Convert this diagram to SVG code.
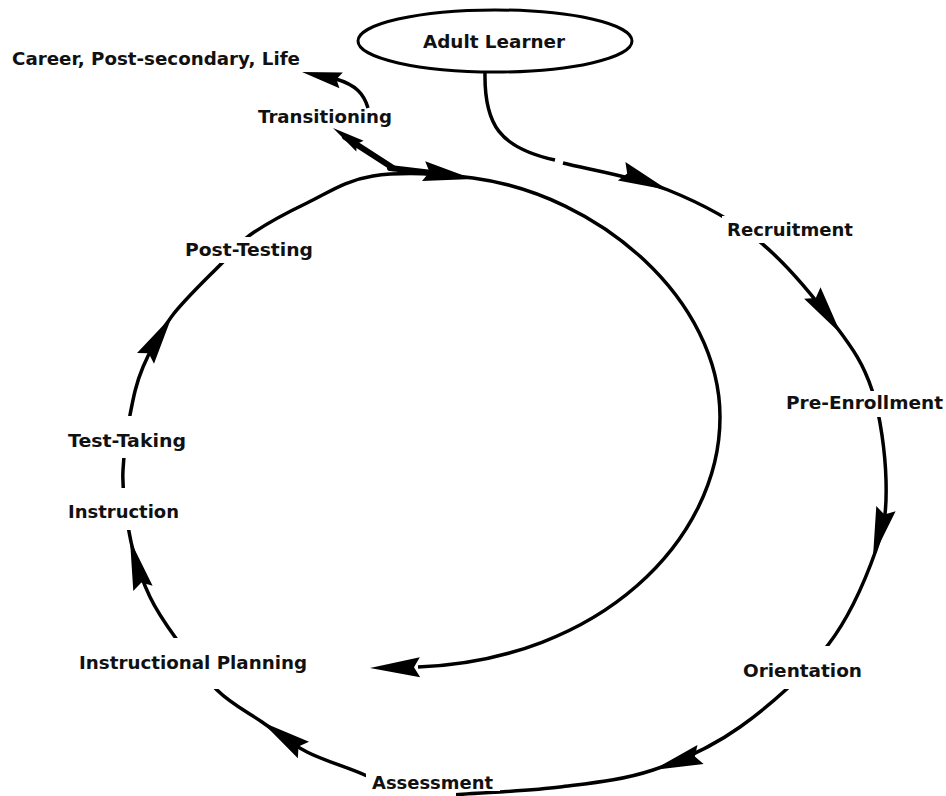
<svg xmlns="http://www.w3.org/2000/svg" xmlns:xlink="http://www.w3.org/1999/xlink" width="946" height="796" viewBox="0 0 946 796">
  <style>
    .line { fill: none; stroke: #000; stroke-width: 3.5; stroke-linecap: butt; }
    .thick { fill: none; stroke: #000; stroke-width: 6; stroke-linecap: round; }
    .head { fill: #000; stroke: none; }
    .bg { fill: #fff; stroke: none; }
    .lbl { font-family: "DejaVu Sans", "Liberation Sans", sans-serif; font-weight: bold; font-size: 18px; fill: #111; }
    .node-shape { fill: #fff; stroke: #000; stroke-width: 3; }
  </style>
  <defs>
    <path id="ah" d="M0,0 L-50,-10 L-44,0 L-50,10 Z"/>
  </defs>
  <rect width="946" height="796" fill="#fff"/>

  <g id="connectors">
    <path class="line" d="M485,72 C484,125 500,148 555,160"/>
    <path class="line" d="M563,163 C587.7,169.3 635.2,176.8 668,190 C700.8,203.2 732.2,219.5 760,242 C787.8,264.5 816.3,300.3 835,325 C853.7,349.7 863.5,364.2 872,390 C880.5,415.8 885.3,453.3 886,480 C886.7,506.7 885.7,522.5 876,550 C866.3,577.5 850.7,615.5 828,645 C805.3,674.5 769.2,706.2 740,727 C710.8,747.8 683,760 653,770 C623,780 593.3,782.8 560,787 C526.7,791.2 478,792.7 453,795 C428,797.3 424.3,804.2 410,801 C395.7,797.8 384.2,784.2 367,776 C349.8,767.8 324.5,761 307,752 C289.5,743 277,732.3 262,722 C247,711.7 231.5,704.2 217,690 C202.5,675.8 186.2,652.5 175,637 C163.8,621.5 157,611.5 150,597 C143,582.5 137.2,565.3 133,550 C128.8,534.7 126.7,518.3 125,505 C123.3,491.7 122.2,485 123,470 C123.8,455 126.7,432.2 130,415 C133.3,397.8 136,383.5 143,367 C150,350.5 158.7,333.5 172,316 C185.3,298.5 210,275.5 223,262 C236,248.5 236,244.8 250,235 C264,225.2 286.5,212.8 307,203 C327.5,193.2 345.3,180.2 373,176 C400.7,171.8 441.8,173.5 473,178 C600,195 720,300 720,417 C720,540 600,660 418,667"/>
    <path class="thick" d="M390,168 L432,173"/>
    <path class="thick" d="M393,168 L345,137"/>
    <path class="line" d="M368,108 C364,94 356,85 336,79"/>
    <use href="#ah" class="head" transform="translate(668,190) rotate(22)"/>
    <use href="#ah" class="head" transform="translate(841,334) rotate(55)"/>
    <use href="#ah" class="head" transform="translate(873,557) rotate(105)"/>
    <use href="#ah" class="head" transform="translate(653,770) rotate(162)"/>
    <use href="#ah" class="head" transform="translate(262,722) rotate(-146)"/>
    <use href="#ah" class="head" transform="translate(130,540) rotate(-105)"/>
    <use href="#ah" class="head" transform="translate(172,316) rotate(-58)"/>
    <use href="#ah" class="head" transform="translate(473,179) rotate(9)"/>
    <use href="#ah" class="head" transform="translate(370,668) rotate(179)"/>
    <use href="#ah" class="head" transform="translate(333,128) rotate(-146) scale(0.65)"/>
    <use href="#ah" class="head" transform="translate(302,72) rotate(-168) scale(0.8)"/>
  </g>

  <g id="node-adult-learner">
    <ellipse class="node-shape" cx="495" cy="41" rx="137" ry="31"/>
    <text class="lbl" x="423" y="48" textLength="142" lengthAdjust="spacingAndGlyphs">Adult Learner</text>
  </g>
  <g id="node-career">
    <text class="lbl" x="12" y="65" textLength="288" lengthAdjust="spacingAndGlyphs">Career, Post-secondary, Life</text>
  </g>
  <g id="node-transitioning">
    <text class="lbl" x="258" y="123" textLength="134" lengthAdjust="spacingAndGlyphs">Transitioning</text>
  </g>
  <g id="node-recruitment">
    <rect class="bg" x="722" y="216" width="137" height="27"/>
    <text class="lbl" x="727" y="236" textLength="126" lengthAdjust="spacingAndGlyphs">Recruitment</text>
  </g>
  <g id="node-post-testing">
    <rect class="bg" x="180" y="237" width="138" height="26"/>
    <text class="lbl" x="185" y="256" textLength="128" lengthAdjust="spacingAndGlyphs">Post-Testing</text>
  </g>
  <g id="node-pre-enrollment">
    <rect class="bg" x="781" y="391" width="165" height="26"/>
    <text class="lbl" x="786" y="409" textLength="157" lengthAdjust="spacingAndGlyphs">Pre-Enrollment</text>
  </g>
  <g id="node-test-taking">
    <rect class="bg" x="62" y="416" width="130" height="42"/>
    <text class="lbl" x="68" y="447" textLength="118" lengthAdjust="spacingAndGlyphs">Test-Taking</text>
  </g>
  <g id="node-instruction">
    <rect class="bg" x="62" y="488" width="124" height="42"/>
    <text class="lbl" x="68" y="518" textLength="111" lengthAdjust="spacingAndGlyphs">Instruction</text>
  </g>
  <g id="node-instructional-planning">
    <rect class="bg" x="74" y="638" width="238" height="51"/>
    <text class="lbl" x="79" y="669" textLength="228" lengthAdjust="spacingAndGlyphs">Instructional Planning</text>
  </g>
  <g id="node-orientation">
    <rect class="bg" x="738" y="646" width="130" height="43"/>
    <text class="lbl" x="743" y="677" textLength="119" lengthAdjust="spacingAndGlyphs">Orientation</text>
  </g>
  <g id="node-assessment">
    <rect class="bg" x="366" y="770" width="134" height="21"/>
    <rect class="bg" x="366" y="770" width="90" height="26"/>
    <text class="lbl" x="372" y="789" textLength="121" lengthAdjust="spacingAndGlyphs">Assessment</text>
  </g>
</svg>
